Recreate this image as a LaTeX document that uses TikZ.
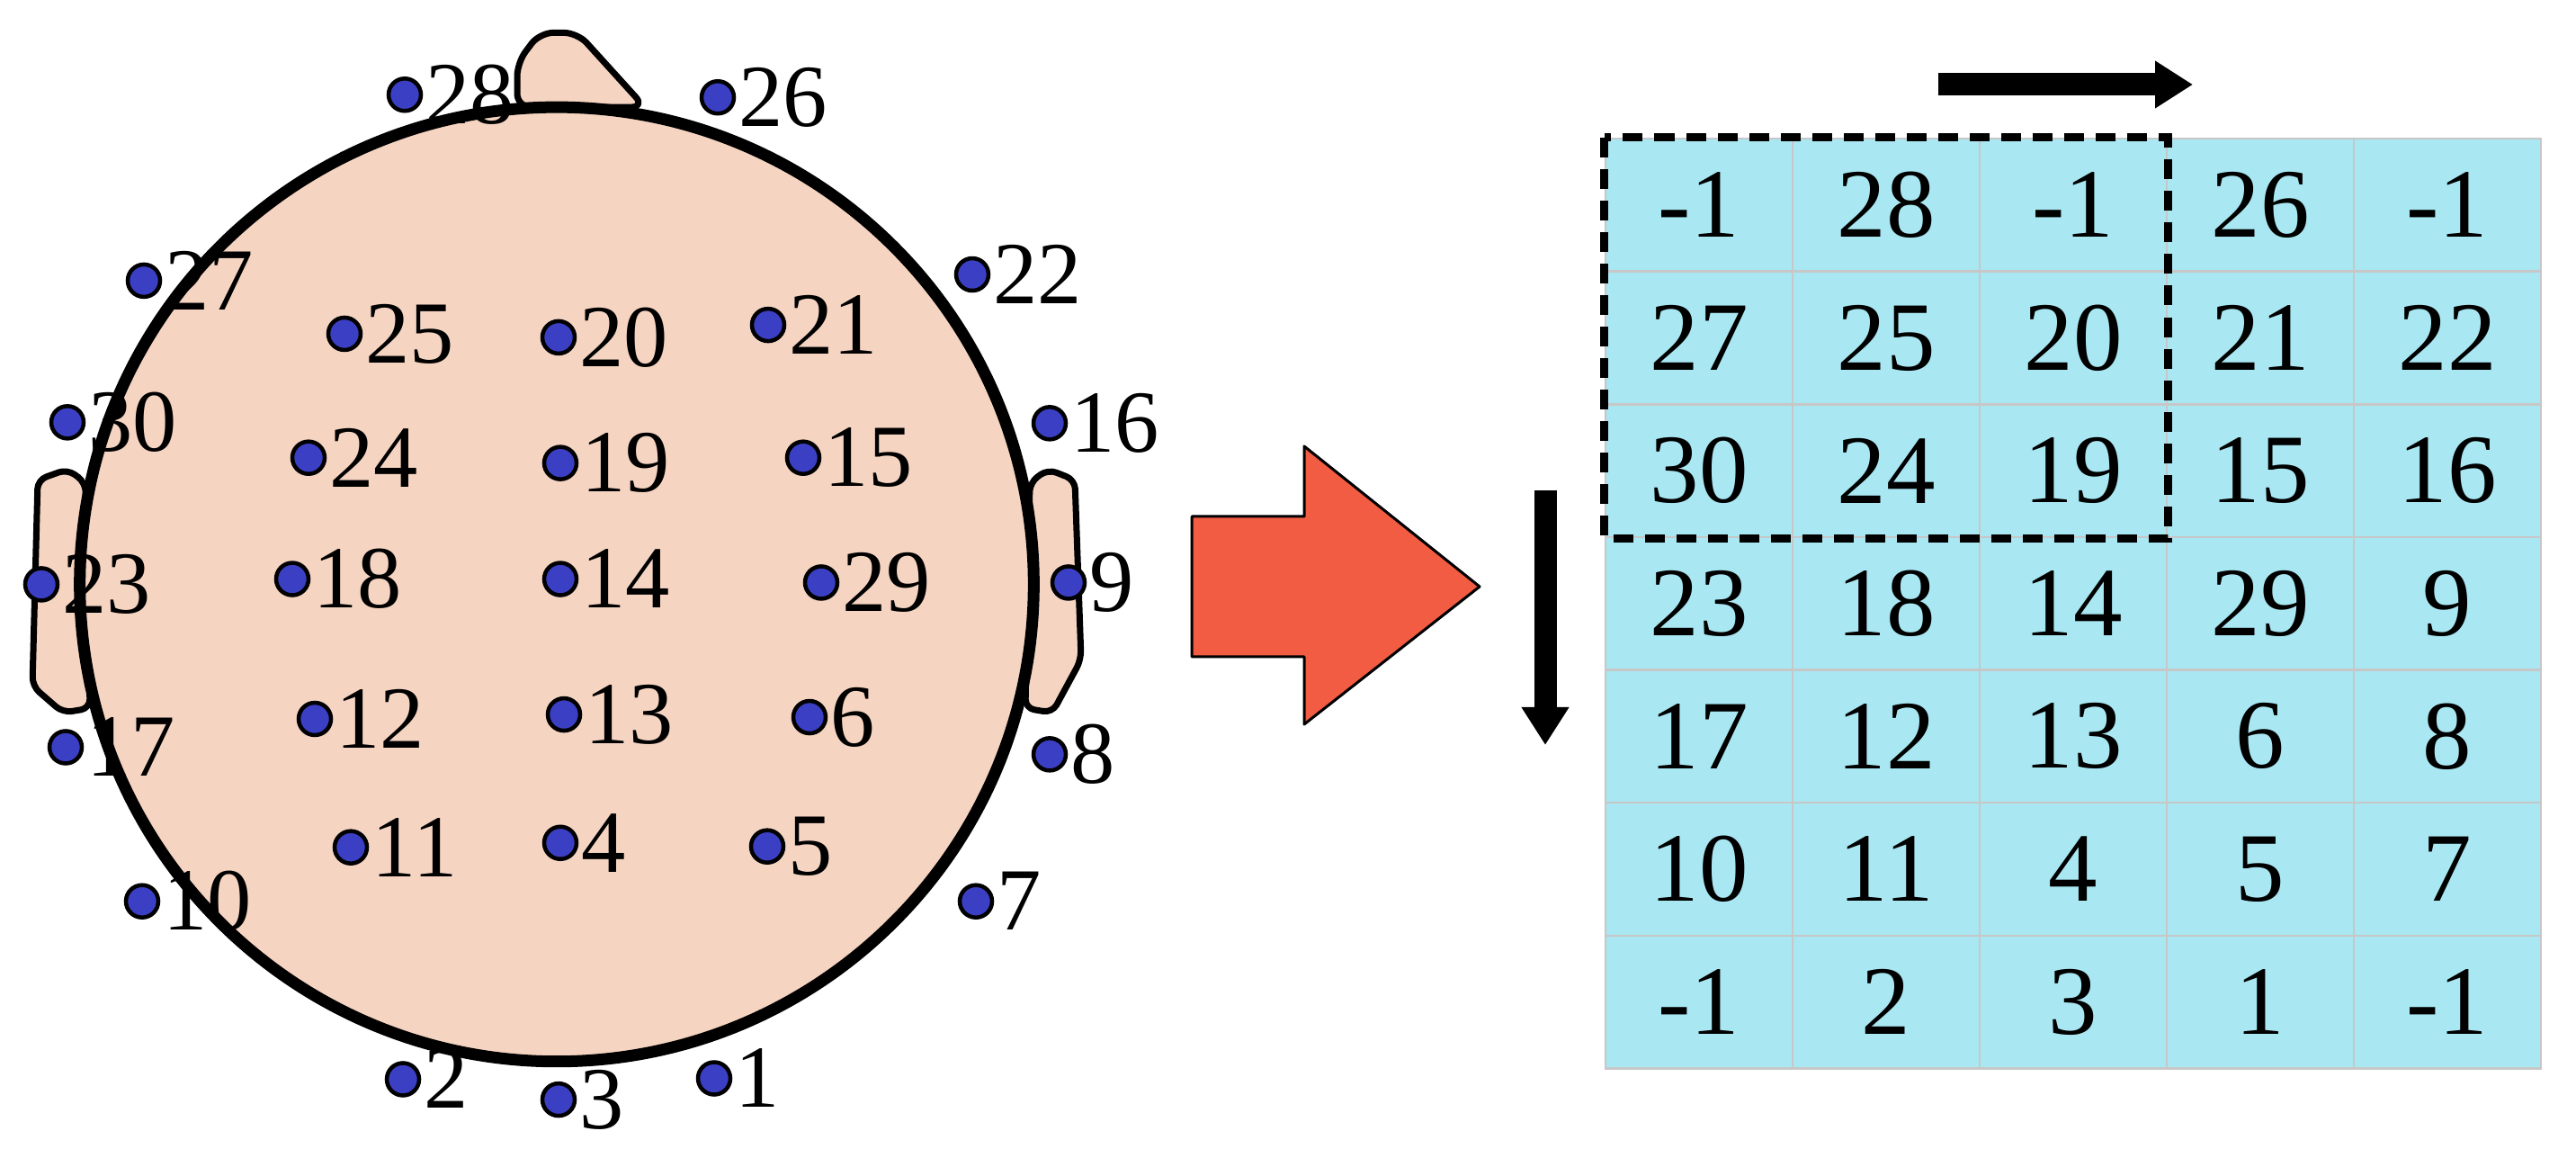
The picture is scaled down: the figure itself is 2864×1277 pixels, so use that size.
\documentclass[tikz,border=0pt]{standalone}
\usepackage{fontspec}
\setmainfont{Liberation Serif}
\usetikzlibrary{arrows.meta,positioning}
\definecolor{skin}{HTML}{F6D4C2}
\definecolor{dotblue}{HTML}{3B3FC4}
\definecolor{cellblue}{HTML}{A9E7F2}
\definecolor{bigred}{HTML}{F25C43}
\tikzset{
    %Define style for electrodes
    elecnode/.style={
             circle, inner sep=0pt, minimum size=0.36cm,
             draw=black, line width=0.045cm, fill=dotblue},
    elecname/.style={
             inner sep=0.5pt, anchor=west,
             font=\fontsize{28}{28}\selectfont},
    % Define style for grid cells
    cellnode/.style={
             rectangle, minimum width=2.08cm, minimum height=1.476cm,
             draw=black!22, line width=0.025cm, fill=cellblue,
             font=\fontsize{31}{31}\selectfont},
    % Define arrow style
    gridarrow/.style={
            -{Triangle[length=0.42cm, width=0.5cm]},
            line width=0.25cm}
}
\begin{document}
\begin{tikzpicture}[x=0.01cm, y=-0.01cm]
 \useasboundingbox (0,0) rectangle (2864,1277);
 \begin{scope}[yscale=0.984]
 % head with nose and ears
 \draw[line width=0.07cm, fill=skin, line join=round, rounded corners=0.15cm] (575,121) -- (575,71) -- (600,37) -- (642,37) -- (717,121) -- cycle;
 \draw[line width=0.07cm, fill=skin, line join=round, rounded corners=0.1cm] (95,545) -- (75,530) -- (42,542) -- (36,775) -- (70,805) -- (100,800) -- cycle;
 \draw[line width=0.07cm, fill=skin, line join=round, rounded corners=0.1cm] (1145,545) -- (1165,530) -- (1195,542) -- (1202,745) -- (1170,805) -- (1140,800) -- cycle;
 \node[circle, draw=black, line width=0.13cm, fill=skin, minimum size=10.6cm] (head) at (619,660) {};
 % electrodes
 \foreach \x/\y/\n in {450/107/28, 798/110/26, 160/317/27, 1081/310/22,
     383/377/25, 621/381/20, 854/367/21, 75/477/30, 1167/478/16,
     343/517/24, 623/523/19, 893/517/15, 46/660/23, 325/654/18,
     623/654/14, 913/658/29, 1188/658/9, 350/812/12, 627/807/13,
     900/810/6, 73/844/17, 1167/852/8, 390/957/11, 623/952/4,
     853/956/5, 158/1018/10, 1085/1018/7, 448/1219/2, 621/1242/3, 794/1218/1}
 {
  \node[elecnode] (e\n) at (\x,\y) {};
  \node[elecname, right=1 of e\n] (l\n) {\n};
 }
 \end{scope}
 % big arrow
 \draw[line width=0.03cm, fill=bigred, line join=round] (1325,574) -- (1450,574) -- (1450,496) -- (1645,652) -- (1450,805) -- (1450,730) -- (1325,730) -- cycle;
 % channel grid
 \foreach \row [count=\r from 0] in {{-1,28,-1,26,-1},{27,25,20,21,22},{30,24,19,15,16},
     {23,18,14,29,9},{17,12,13,6,8},{10,11,4,5,7},{-1,2,3,1,-1}}
 {
  \foreach \v [count=\c from 0] in \row
   \node[cellnode] (c\r\c) at (1889+208*\c, 228+147.6*\r) {\v};
 }
 \draw[line width=0.09cm, dash pattern=on 0.22cm off 0.13cm] (c00.north west) rectangle (c22.south east);
 % scan direction
 \coordinate (downstart) at (1718,545);
 \coordinate (downend) at (1718,828);
 \coordinate (rightstart) at (2155,94);
 \coordinate (rightend) at (2438,94);
 \draw[gridarrow] (downstart) -- (downend);
 \draw[gridarrow] (rightstart) -- (rightend);
\end{tikzpicture}
\end{document}
